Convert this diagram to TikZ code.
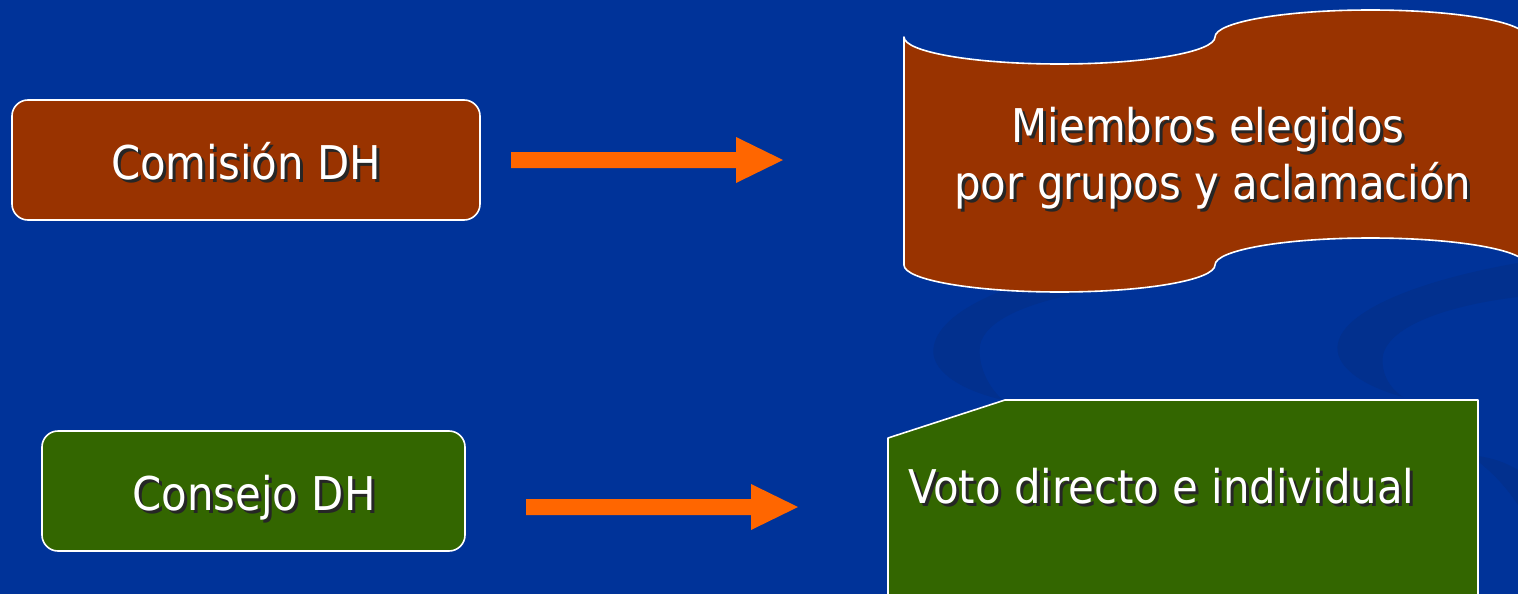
\documentclass[tikz,border=0pt]{standalone}
\usepackage{fontspec}
\setmainfont{DejaVu Sans Condensed}
\definecolor{bgblue}{HTML}{003399}
\definecolor{swirl}{HTML}{02308E}
\definecolor{brownc}{HTML}{993300}
\definecolor{greenc}{HTML}{336600}
\definecolor{orangec}{HTML}{FF6600}
\tikzset{
  box/.style={draw=white, line width=1.6pt, rounded corners=16pt, inner sep=0pt},
  txt/.style={text=white, inner sep=0pt, font=\fontsize{46.5}{54}\selectfont},
  shd/.style={text=black!85, inner sep=0pt, font=\fontsize{46.5}{54}\selectfont},
  outl/.style={draw=white, line width=1.6pt, line join=round},
  blockarrow/.style={fill=orangec}
}
\begin{document}
\begin{tikzpicture}[x=1pt,y=-1pt]
\useasboundingbox (0,0) rectangle (1518,594);
\clip (0,0) rectangle (1518,594);
\fill[bgblue] (0,0) rectangle (1518,594);
% background swirls
\fill[swirl] (1003,400) .. controls (960,390) and (928,370) .. (934,345)
  .. controls (942,310) and (1010,280) .. (1100,266) -- (1100,290)
  .. controls (1030,300) and (985,320) .. (980,345)
  .. controls (977,370) and (993,392) .. (1003,400) -- cycle;
\fill[swirl] (1403,397) .. controls (1360,385) and (1333,365) .. (1338,343)
  .. controls (1345,310) and (1420,280) .. (1518,263) -- (1518,297)
  .. controls (1450,305) and (1390,325) .. (1383,355)
  .. controls (1380,375) and (1392,390) .. (1403,397) -- cycle;
\fill[swirl] (1470,455) .. controls (1490,470) and (1505,485) .. (1518,505) -- (1518,470)
  .. controls (1505,462) and (1490,457) .. (1470,455) -- cycle;
% left boxes
\node[box, fill=brownc, minimum width=468pt, minimum height=120pt] (com) at (246,160) {};
\node[box, fill=greenc, minimum width=423pt, minimum height=120pt] (con) at (253.5,491) {};
\node[shd, anchor=base] (comS) at (249,182) {Comisión DH};
\node[txt, anchor=base] (comT) at (246,179) {Comisión DH};
\node[shd, anchor=base] (conS) at (257,513) {Consejo DH};
\node[txt, anchor=base] (conT) at (254,510) {Consejo DH};
% block arrows
\fill[blockarrow] (511,152) -- (736,152) -- (736,137) -- (783,160) -- (736,183) -- (736,168) -- (511,168) -- cycle;
\fill[blockarrow] (526,499) -- (751,499) -- (751,484) -- (798,507) -- (751,530) -- (751,515) -- (526,515) -- cycle;
% punched tape banner
\path[fill=brownc, outl] (904,37)
  .. controls (904,51.9) and (973.6,64) .. (1059.5,64)
  .. controls (1145.4,64) and (1215,51.9) .. (1215,37)
  .. controls (1215,22.1) and (1284.6,10) .. (1370.5,10)
  .. controls (1456.4,10) and (1526,22.1) .. (1526,37)
  -- (1526,265)
  .. controls (1526,250.1) and (1456.4,238) .. (1370.5,238)
  .. controls (1284.6,238) and (1215,250.1) .. (1215,265)
  .. controls (1215,279.9) and (1145.4,292) .. (1059.5,292)
  .. controls (973.6,292) and (904,279.9) .. (904,265) -- cycle;
\node[shd, anchor=base] (m1S) at (1211,145) {Miembros elegidos};
\node[txt, anchor=base] (m1T) at (1208,142) {Miembros elegidos};
\node[shd, anchor=base] (m2S) at (1216,202) {por grupos y aclamación};
\node[txt, anchor=base] (m2T) at (1213,199) {por grupos y aclamación};
% green shape
\path[fill=greenc, outl] (888,438) -- (1005,400) -- (1478,400) -- (1478,600) -- (888,600) -- cycle;
\node[shd, anchor=base west] (vS) at (911,506) {Voto directo e individual};
\node[txt, anchor=base west] (vT) at (908,503) {Voto directo e individual};
\end{tikzpicture}
\end{document}
